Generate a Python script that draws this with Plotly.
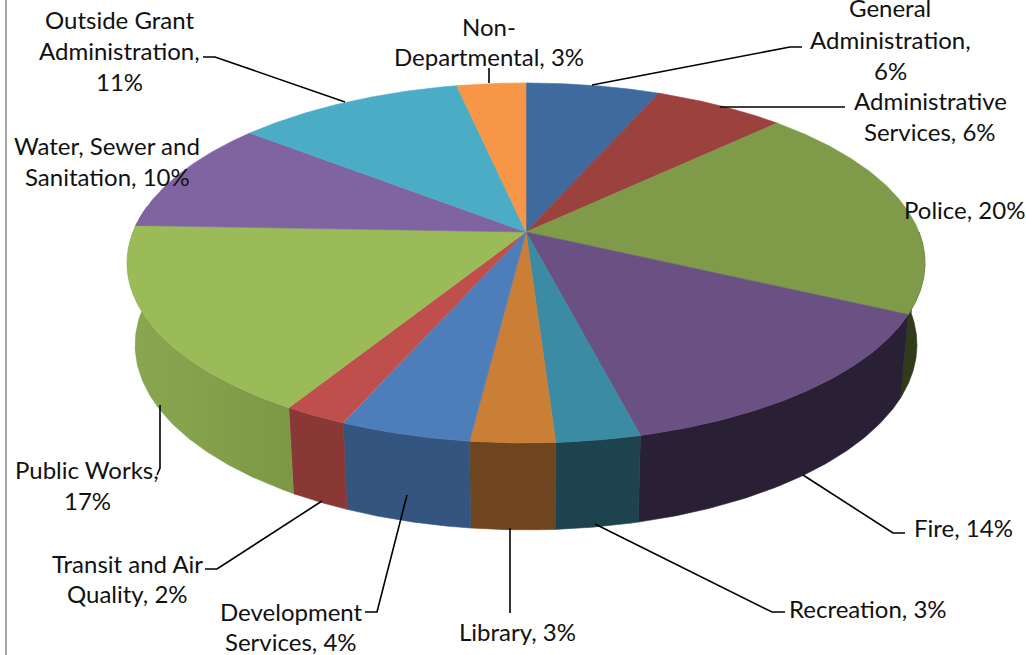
import numpy as np
import plotly.graph_objects as go

# Slice order runs clockwise from 12 o'clock
categories = ["General Administration", "Administrative Services", "Police", "Fire", "Recreation",
              "Library", "Development Services", "Transit and Air Quality", "Public Works",
              "Water, Sewer and Sanitation", "Outside Grant Administration", "Non-Departmental"]
# Shares as they appear in the drawn slices (percent)
shares = [6.4, 6.3, 19.5, 13.9, 2.9, 2.9, 4.5, 2.2, 17.0, 10.2, 10.9, 3.3]
# Percentages printed on the labels
printed = [6, 6, 20, 14, 3, 3, 4, 2, 17, 10, 11, 3]

top_colors = ["#3E6A9E", "#9B413E", "#7F9A48", "#6A5083", "#3A8BA3", "#CB7E36",
              "#4D7EBA", "#BE4F4C", "#9BBB59", "#8064A2", "#4BACC6", "#F79646"]
wall_colors = ["#2A4668", "#672B29", "#2F3B1A", "#2A2035", "#1D444E", "#6F451F",
               "#33557F", "#8A3836", "#7F9A48", "#54426B", "#327285", "#A4632E"]

# Label text lines with the centre of each line (px on the page)
label_lines = [
    (["General", "Administration,", "6%"], 890, [7, 39, 70]),
    (["Administrative", "Services, 6%"], 930, [100, 131]),
    (["Police, 20%"], 964, [209]),
    (["Fire, 14%"], 963, [527]),
    (["Recreation, 3%"], 868, [608]),
    (["Library, 3%"], 517, [631]),
    (["Development", "Services, 4%"], 291, [611, 641]),
    (["Transit and Air", "Quality, 2%"], 127, [563, 593]),
    (["Public Works,", "17%"], 87, [469, 500]),
    (["Water, Sewer and", "Sanitation, 10%"], 107, [145, 176]),
    (["Outside Grant", "Administration,", "11%"], 119, [19, 50, 81]),
    (["Non-", "Departmental, 3%"], 489, [26, 56]),
]
leaders = [
    ([592, 790, 802], [85, 47, 47]),
    ([720, 845], [107, 107]),
    ([803, 893, 905], [475, 533, 533]),
    ([595, 772, 785], [524, 612, 612]),
    ([510, 510], [528, 613]),
    ([407, 377, 365], [495, 612, 612]),
    ([322, 217, 205], [501, 569, 569]),
    ([160, 160, 157], [405, 468, 475]),
    ([345, 215, 203], [102, 57, 57]),
    ([489, 489], [83, 68]),
]

# Projection of the tilted disc
CX, CY = 526, 232
R, S, K = 393.0, 174.7, 0.172
WALL_XSCALE, WALL_YSCALE, WALL_DROP = 0.98, 1.028, 81.0
VISIBLE_FROM, VISIBLE_TO = np.pi / 2, 3 * np.pi / 2 + 0.15


def project(theta, xscale=1.0, yscale=1.0, drop=0.0):
    x = np.sin(theta)
    y = -np.cos(theta)
    d = 1 - K * y
    return CX + xscale * R * x / d, CY + drop + yscale * S * y / d


total = sum(shares)
edges = np.cumsum([0] + shares) / total * 2 * np.pi

fig = go.Figure()


def poly(xs, ys, color, **kw):
    fig.add_trace(go.Scatter(x=xs, y=ys, mode="lines", fill="toself", fillcolor=color,
                             line=dict(color=color, width=0.6), hoverinfo="skip",
                             showlegend=False, **kw))


# Outer walls: only the part of the rim that faces the viewer
for i in range(len(shares)):
    a, b = max(edges[i], VISIBLE_FROM), min(edges[i + 1], VISIBLE_TO)
    if a >= b:
        continue
    t = np.linspace(a, b, 80)
    tx, ty = project(t)
    bx, by = project(t, xscale=WALL_XSCALE, yscale=WALL_YSCALE, drop=WALL_DROP)
    xs = np.r_[tx, bx[::-1], tx[0]]
    ys = np.r_[ty, by[::-1], ty[0]]
    if categories[i] == "Public Works":
        fig.add_trace(go.Scatter(
            x=xs, y=ys, mode="lines", fill="toself",
            fillgradient=dict(type="horizontal",
                              colorscale=[[0, "#8BA650"], [0.5, "#85A04B"], [1, "#7C9746"]]),
            line=dict(color="#7F9A48", width=0.4), hoverinfo="skip", showlegend=False))
    else:
        poly(xs, ys, wall_colors[i])

# Top faces
for i in range(len(shares)):
    t = np.linspace(edges[i], edges[i + 1], 120)
    tx, ty = project(t)
    poly(np.r_[CX, tx, CX], np.r_[CY, ty, CY], top_colors[i])

# Leader lines
for lx, ly in leaders:
    fig.add_trace(go.Scatter(x=lx, y=ly, mode="lines", line=dict(color="#000000", width=1.6),
                             hoverinfo="skip", showlegend=False))

# Labels
for lines, cx, ys in label_lines:
    for text, y in zip(lines, ys):
        fig.add_annotation(x=cx, y=y, text=text, showarrow=False, xanchor="center", yanchor="middle",
                           font=dict(family="Lato", size=24, color="#111111"))

# Frame line on the left
fig.add_shape(type="line", x0=6, x1=6, y0=0, y1=655, line=dict(color="#A6A6A6", width=2))

fig.update_layout(
    width=1026, height=655, margin=dict(l=0, r=0, t=0, b=0),
    paper_bgcolor="white", plot_bgcolor="white", showlegend=False,
    xaxis=dict(range=[0, 1026], visible=False, fixedrange=True),
    yaxis=dict(range=[655, 0], visible=False, fixedrange=True),
)
fig.write_html("out.html", config={"displayModeBar": False},
               post_script="document.body.style.margin='0';")
